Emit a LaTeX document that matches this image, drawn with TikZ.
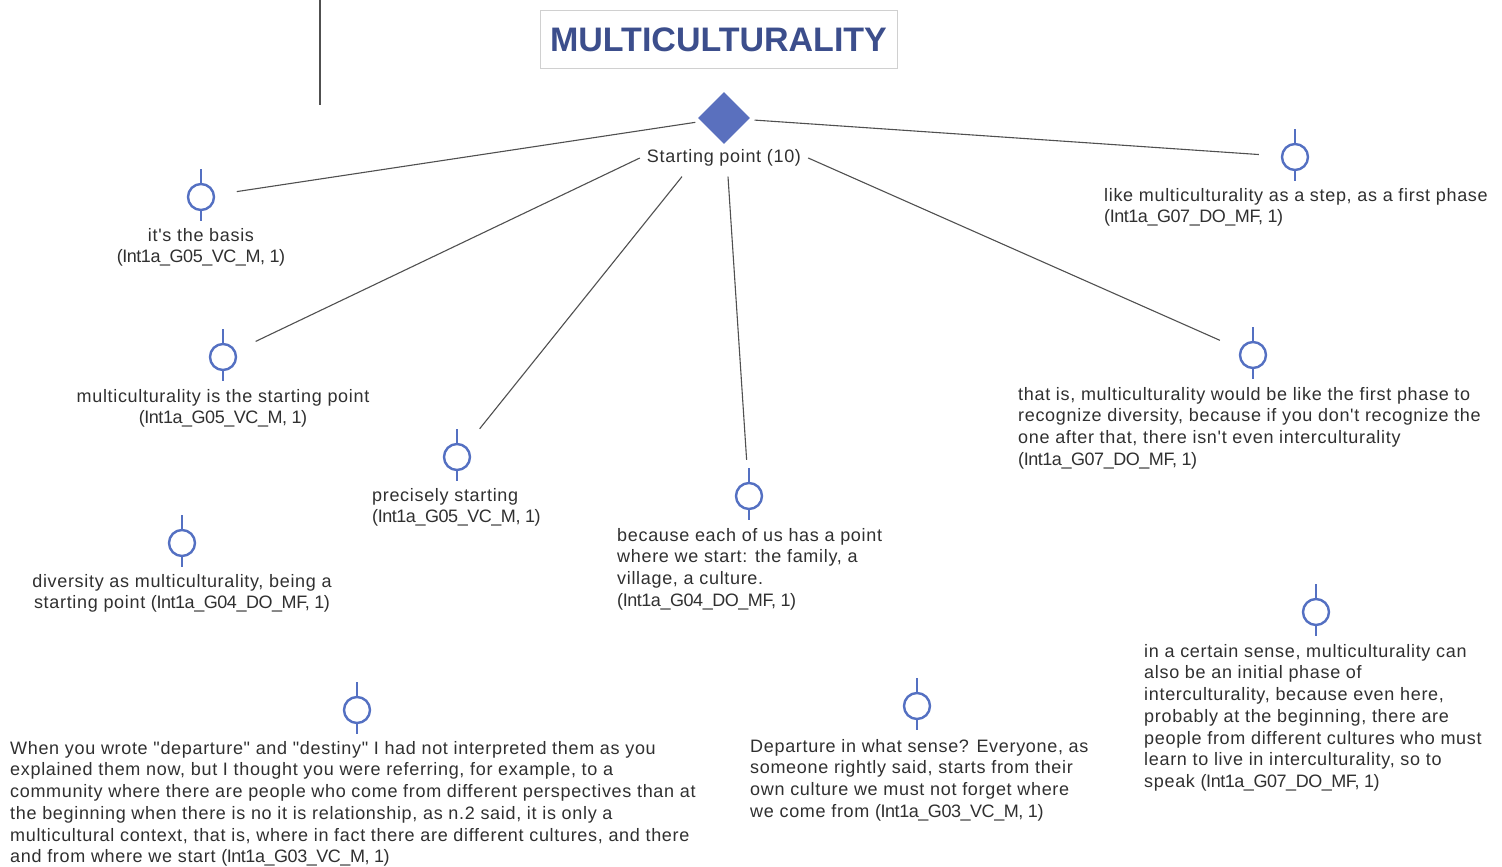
\documentclass[tikz,border=0pt]{standalone}
\usepackage{fontspec}
\setmainfont{Liberation Sans}
\newfontfamily\bodyfont{Liberation Sans}[LetterSpace=3.8, Ligatures=TeXOff]
\newfontfamily\idfont{Liberation Sans}[LetterSpace=-2.5, Ligatures=TeXOff]
% source reference of a quotation
\newcommand\qid[1]{{\idfont(#1)}}
\usetikzlibrary{shapes.geometric}
\definecolor{titleblue}{HTML}{3C4E8C}
\definecolor{hubblue}{HTML}{5A70BE}
\definecolor{markblue}{HTML}{5470C2}
\definecolor{linkgray}{HTML}{505050}
\definecolor{boxgray}{HTML}{D0D0D0}
\definecolor{txtgray}{HTML}{303030}
\begin{document}
\begin{tikzpicture}[x=1pt,y=-1pt,
  every node/.style={text=txtgray, font=\bodyfont\fontsize{18}{21.7}\selectfont},
  marker/.style={circle, draw=markblue, line width=2.4pt, minimum size=26pt, inner sep=0pt},
  stem/.style={draw=markblue, line width=2.4pt},
  link/.style={draw=linkgray, line width=1.1pt, shorten >=22pt},
  quote/.style={inner sep=0pt, align=left, anchor=north west},
  cquote/.style={inner sep=0pt, align=center, anchor=north}]
\useasboundingbox (0,0) rectangle (1502,867);
\fill[white] (0,0) rectangle (1502,867);

% separator at the top left
\draw[linkgray, line width=1.3pt] (320,0) -- (320,105);

% title
\node[draw=boxgray, line width=1pt, minimum width=357pt, minimum height=58pt,
      text=titleblue, font=\normalfont\fontsize{34}{40}\selectfont\bfseries] (title) at (718.5,40) {MULTICULTURALITY};

% code node
\node[diamond, fill=hubblue, minimum size=52pt, inner sep=0pt] (hub) at (724,118) {};
\node[inner xsep=7pt, inner ysep=10pt] (lbl) at (724,158) {Starting point (10)};

% quotation markers
\node[marker] (m1) at (201,197) {};
\node[marker] (m2) at (223,357) {};
\node[marker] (m3) at (457,457) {};
\node[marker] (m4) at (749,496) {};
\node[marker] (m5) at (1253,355) {};
\node[marker] (m6) at (1295,157) {};
\node[marker] (m7) at (182,543) {};
\node[marker] (m8) at (357,710) {};
\node[marker] (m9) at (917,706) {};
\node[marker] (m10) at (1316,612) {};
\foreach \m in {m1,m2,m3,m4,m5,m6,m7,m8,m9,m10}
  \draw[stem] (\m.north) -- ++(0,-14) (\m.south) -- ++(0,10);

% links from the code
\draw[link, shorten <=6pt] (hub) -- (m1);
\draw[link] (lbl.west) -- (m2);
\draw[link] ([xshift=-42pt]lbl.south) -- (m3);
\draw[link] ([xshift=4pt]lbl.south) -- (m4);
\draw[link] (lbl.east) -- (m5);
\draw[link, shorten <=6pt] (hub) -- (m6);

% quotations
\node[cquote] (q1) at (201,228) {it's the basis\\\qid{Int1a\_G05\_VC\_M, 1}};
\node[cquote] (q2) at (223,389) {multiculturality is the starting point\\\qid{Int1a\_G05\_VC\_M, 1}};
\node[quote] (q3) at (372,488) {precisely starting\\\qid{Int1a\_G05\_VC\_M, 1}};
\node[quote] (q4) at (617,528) {because each of us has a point\\where we start: the family, a\\village, a culture.\\\qid{Int1a\_G04\_DO\_MF, 1}};
\node[cquote] (q7) at (182,574) {diversity as multiculturality, being a\\starting point \qid{Int1a\_G04\_DO\_MF, 1}};
\node[quote] (q6) at (1104,188) {like multiculturality as a step, as a first phase\\\qid{Int1a\_G07\_DO\_MF, 1}};
\node[quote] (q5) at (1018,387) {that is, multiculturality would be like the first phase to\\recognize diversity, because if you don't recognize the\\one after that, there isn't even interculturality\\\qid{Int1a\_G07\_DO\_MF, 1}};
\node[quote] (q8) at (10,741) {When you wrote "departure" and "destiny" I had not interpreted them as you\\explained them now, but I thought you were referring, for example, to a\\community where there are people who come from different perspectives than at\\the beginning when there is no it is relationship, as n.2 said, it is only a\\multicultural context, that is, where in fact there are different cultures, and there\\and from where we start \qid{Int1a\_G03\_VC\_M, 1}};
\node[quote] (q9) at (750,739) {Departure in what sense? Everyone, as\\someone rightly said, starts from their\\own culture we must not forget where\\we come from \qid{Int1a\_G03\_VC\_M, 1}};
\node[quote] (q10) at (1144,644) {in a certain sense, multiculturality can\\also be an initial phase of\\interculturality, because even here,\\probably at the beginning, there are\\people from different cultures who must\\learn to live in interculturality, so to\\speak \qid{Int1a\_G07\_DO\_MF, 1}};
\end{tikzpicture}
\end{document}
